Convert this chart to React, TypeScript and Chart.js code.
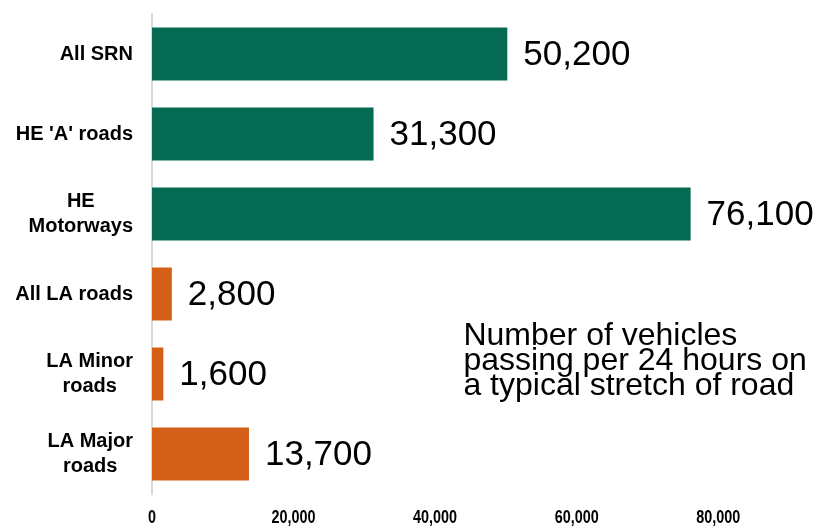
import React, { useEffect, useRef } from "react";
import { Chart, registerables } from "chart.js";

Chart.register(...registerables);

const categories: (string | string[])[] = [
  "All SRN",
  "HE 'A' roads",
  ["HE", "Motorways"],
  "All LA roads",
  ["LA Minor", "roads"],
  ["LA Major", "roads"],
];
const values = [50200, 31300, 76100, 2800, 1600, 13700];
const barColors = ["#046A52", "#046A52", "#046A52", "#D45F18", "#D45F18", "#D45F18"];
const xTicks = [0, 20000, 40000, 60000, 80000];
const annotationLines = [
  "Number of vehicles",
  "passing per 24 hours on",
  "a typical stretch of road",
];

const SANS = "'Liberation Sans', Arial, sans-serif";

const labelPlugin = {
  id: "valueLabels",
  afterDatasetsDraw(chart: any) {
    const ctx = chart.ctx;
    const meta = chart.getDatasetMeta(0);
    const xs = chart.scales.x;
    const ys = chart.scales.y;
    const area = chart.chartArea;
    ctx.save();
    // value labels
    ctx.font = `35px ${SANS}`;
    ctx.fillStyle = "#000";
    ctx.textAlign = "left";
    ctx.textBaseline = "middle";
    meta.data.forEach((bar: any, i: number) => {
      ctx.fillText(values[i].toLocaleString("en-US"), bar.x + 16, bar.y + 1);
    });
    // y category labels (multi-line centered, block right-aligned)
    ctx.font = `bold 20px ${SANS}`;
    const right = area.left - 19;
    const lh = 25;
    categories.forEach((c, i) => {
      const lines = Array.isArray(c) ? c : [c];
      const w = Math.max(...lines.map((l) => ctx.measureText(l).width));
      const cx = right - w / 2;
      const cy = ys.getPixelForValue(i);
      ctx.textAlign = "center";
      ctx.textBaseline = "middle";
      lines.forEach((l, j) => {
        ctx.fillText(l, cx, cy + (j - (lines.length - 1) / 2) * lh);
      });
    });
    // x tick labels (condensed bold)
    ctx.font = `bold 18px ${SANS}`;
    ctx.textAlign = "center";
    ctx.textBaseline = "middle";
    xTicks.forEach((v) => {
      const px = xs.getPixelForValue(v);
      ctx.save();
      ctx.translate(px, area.bottom + 24);
      ctx.scale(0.8, 1);
      ctx.fillText(v.toLocaleString("en-US"), 0, 0);
      ctx.restore();
    });
    // annotation text
    const ax = xs.getPixelForValue(44000);
    ctx.font = `32px ${SANS}`;
    ctx.textAlign = "left";
    ctx.textBaseline = "alphabetic";
    annotationLines.forEach((line, i) => {
      ctx.fillText(line, ax, area.top + 331 + i * 25);
    });
    ctx.restore();
  },
};

export default function App() {
  const ref = useRef<HTMLCanvasElement>(null);
  useEffect(() => {
    if (!ref.current) return;
    const chart = new Chart(ref.current, {
      type: "bar",
      data: {
        labels: categories,
        datasets: [
          {
            data: values,
            backgroundColor: barColors,
            borderWidth: 0,
            barPercentage: 0.6625,
            categoryPercentage: 1,
          },
        ],
      },
      options: {
        indexAxis: "y",
        responsive: false,
        animation: false,
        layout: { padding: { left: 0, right: 41, top: 14, bottom: 0 } },
        plugins: {
          legend: { display: false },
          tooltip: { enabled: false },
        },
        scales: {
          x: {
            min: 0,
            max: 90000,
            afterBuildTicks: (s: any) => {
              s.ticks = xTicks.map((v) => ({ value: v }));
            },
            afterFit: (s: any) => {
              s.height = 34;
              s.paddingLeft = 0;
              s.paddingRight = 0;
            },
            grid: { display: false, drawTicks: false },
            border: { display: false },
            ticks: { display: false },
          },
          y: {
            afterFit: (s: any) => {
              s.width = 152;
              s.paddingTop = 0;
              s.paddingBottom = 0;
            },
            grid: { display: false, drawTicks: false },
            border: { display: true, color: "#d9d9d9", width: 2 },
            ticks: { display: false },
          },
        },
      },
      plugins: [labelPlugin],
    } as any);
    return () => chart.destroy();
  }, []);
  return (
    <div style={{ position: "fixed", left: 0, top: 0, width: 830, height: 528, background: "#fff" }}>
      <canvas ref={ref} width={830} height={528} />
    </div>
  );
}
